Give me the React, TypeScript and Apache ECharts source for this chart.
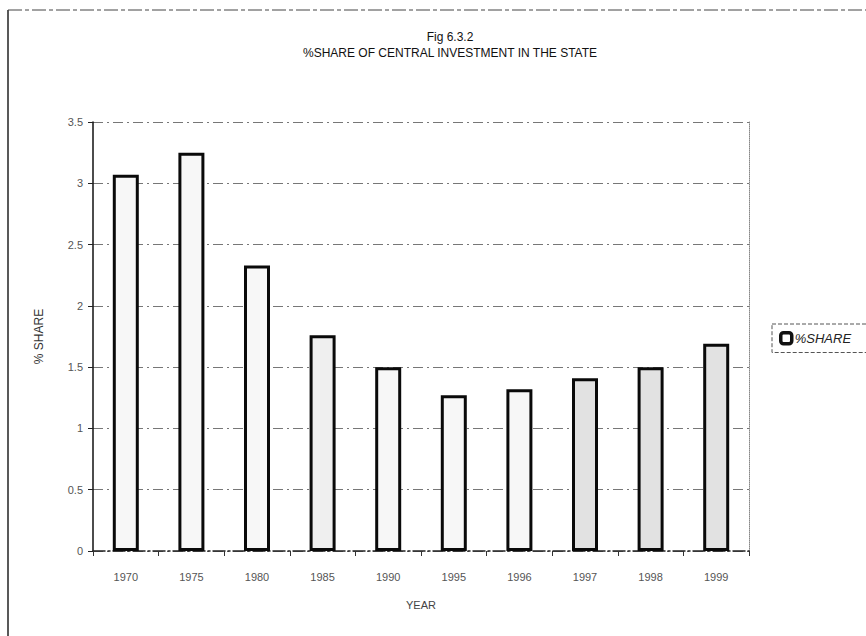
import React, { useEffect, useRef } from "react";
import * as echarts from "echarts";

const years = ["1970", "1975", "1980", "1985", "1990", "1995", "1996", "1997", "1998", "1999"];
const shareValues = [3.07, 3.25, 2.33, 1.76, 1.5, 1.27, 1.32, 1.41, 1.5, 1.69];
const yTicks = ["0", "0.5", "1", "1.5", "2", "2.5", "3", "3.5"];

const FONT = "Liberation Sans";

export default function App() {
  const ref = useRef<HTMLDivElement>(null);
  useEffect(() => {
    if (!ref.current) return;
    const chart = echarts.init(ref.current, undefined, { renderer: "svg" });
    chart.setOption({
      animation: false,
      backgroundColor: "#ffffff",
      textStyle: { fontFamily: FONT },
      title: {
        text: "Fig 6.3.2",
        subtext: "%SHARE OF CENTRAL INVESTMENT IN THE STATE",
        left: 445,
        top: 26,
        textAlign: "center",
        itemGap: 4,
        textStyle: { fontFamily: FONT, fontSize: 12, fontWeight: "normal", color: "#111" },
        subtextStyle: { fontFamily: FONT, fontSize: 12, color: "#111" },
      },
      legend: {
        left: 772,
        top: 324,
        orient: "vertical",
        itemWidth: 11,
        itemHeight: 11,
        padding: [7, 30, 7, 7],
        itemGap: 4,
        borderColor: "#555",
        borderWidth: 1,
        borderType: "dashed",
        textStyle: { fontFamily: FONT, fontSize: 13, fontStyle: "italic", color: "#222", padding: [0, 0, 0, -2] },
        data: [{ name: "%SHARE", itemStyle: { color: "#ffffff", borderColor: "#111", borderWidth: 3.5 } }],
      },
      grid: { left: 93, right: 117, top: 122, bottom: 85, containLabel: false },
      xAxis: {
        type: "category",
        data: years,
        name: "YEAR",
        nameLocation: "middle",
        nameGap: 48,
        nameTextStyle: { fontFamily: FONT, fontSize: 11, color: "#444" },
        axisLine: { show: true, lineStyle: { color: "#222", width: 1.5, type: [12, 3, 2, 3] } },
        axisTick: { show: true, alignWithLabel: false, length: 5, lineStyle: { color: "#333" } },
        axisLabel: { fontFamily: FONT, fontSize: 11, color: "#555", margin: 20 },
        splitLine: { show: false },
      },
      yAxis: [
        {
          type: "value",
          min: 0,
          max: 3.5,
          interval: 0.5,
          name: "% SHARE",
          nameLocation: "middle",
          nameGap: 48,
          nameRotate: 90,
          nameTextStyle: { fontFamily: FONT, fontSize: 12, color: "#333" },
          axisLine: { show: true, lineStyle: { color: "#111", width: 1.5 } },
          axisTick: { show: true, inside: false, length: 5, lineStyle: { color: "#222" } },
          axisLabel: {
            fontFamily: FONT,
            fontSize: 11,
            color: "#555",
            margin: 10,
            formatter: (v: number) => {
              const i = Math.round(v / 0.5);
              return yTicks[i] ?? String(v);
            },
          },
          splitLine: { show: true, lineStyle: { color: "#777", width: 1, type: [10, 4, 2, 4] } },
        },
        {
          type: "value",
          position: "right",
          min: 0,
          max: 3.5,
          interval: 0.5,
          axisLine: { show: true, lineStyle: { color: "#888", width: 1, type: "dotted" } },
          axisTick: { show: false },
          axisLabel: { show: false },
          splitLine: { show: false },
        },
      ],
      series: [
        {
          name: "%SHARE",
          type: "bar",
          data: shareValues,
          barWidth: 26,
          yAxisIndex: 0,
          itemStyle: {
            color: (p: any) => (p.dataIndex >= 7 ? "#e2e2e2" : p.dataIndex === 3 ? "#efefef" : "#f7f7f7"),
            borderColor: "#0a0a0a",
            borderWidth: 3,
          },
        },
      ],
      graphic: [
        {
          type: "line",
          shape: { x1: 8, y1: 10, x2: 8, y2: 640 },
          style: { stroke: "#222", lineWidth: 1.5 },
          silent: true,
        },
        {
          type: "line",
          shape: { x1: 8, y1: 10, x2: 870, y2: 10 },
          style: { stroke: "#444", lineWidth: 1, lineDash: [14, 3, 4, 3] },
          silent: true,
        },
      ],
    });
    return () => chart.dispose();
  }, []);
  return (
    <div
      ref={ref}
      style={{ position: "fixed", left: 0, top: 0, width: 866, height: 636, background: "#fff" }}
    />
  );
}
